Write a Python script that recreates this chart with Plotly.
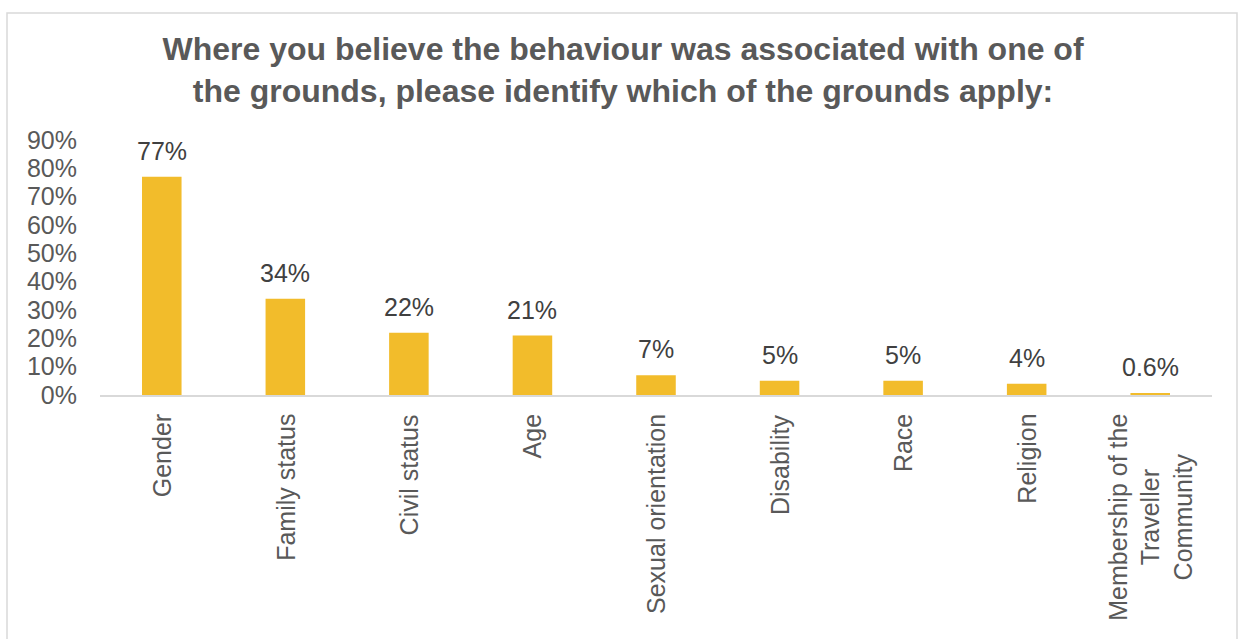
import plotly.graph_objects as go

categories = [
    "Gender", "Family status", "Civil status", "Age", "Sexual orientation",
    "Disability", "Race", "Religion", "Membership of the<br>Traveller<br>Community",
]
shares = [0.77, 0.34, 0.22, 0.21, 0.07, 0.05, 0.05, 0.04, 0.006]
share_labels = ["77%", "34%", "22%", "21%", "7%", "5%", "5%", "4%", "0.6%"]
y_ticks = [0, 0.1, 0.2, 0.3, 0.4, 0.5, 0.6, 0.7, 0.8, 0.9]
y_tick_labels = ["0%", "10%", "20%", "30%", "40%", "50%", "60%", "70%", "80%", "90%"]

W, H = 1245, 639
L, R, T, B = 100, 33, 140, 244
pw, ph = W - L - R, H - T - B

font = "Arial, Liberation Sans, sans-serif"
grey = "#595959"

fig = go.Figure(go.Bar(
    x=categories,
    y=shares,
    marker=dict(color="#F2BC2B", line=dict(width=0)),
    cliponaxis=False,
    hoverinfo="skip",
))

annotations = []
# value labels above each bar
for cat, val, lab in zip(categories, shares, share_labels):
    annotations.append(dict(
        x=cat, y=val, xref="x", yref="y",
        text=lab, showarrow=False,
        xanchor="center", yanchor="bottom", yshift=10,
        font=dict(family=font, size=25, color="#404040"),
    ))
# rotated category labels, centred line by line
for cat in categories:
    annotations.append(dict(
        x=cat, y=-17 / ph, xref="x", yref="paper",
        text=cat, showarrow=False, textangle=-90,
        xanchor="center", yanchor="top", align="center",
        font=dict(family=font, size=25, color=grey),
    ))

fig.update_layout(
    width=W, height=H,
    margin=dict(l=L, r=R, t=T, b=B, autoexpand=False),
    paper_bgcolor="white",
    plot_bgcolor="white",
    bargap=0.68,
    showlegend=False,
    title=dict(
        text="Where you believe the behaviour was associated with one of<br>"
             "the grounds, please identify which of the grounds apply:",
        x=623 / W, xanchor="center",
        y=1 - 60 / H, yanchor="middle",
        yref="container",
        font=dict(family=font, size=32, color=grey, weight="bold"),
    ),
    xaxis=dict(
        showticklabels=False,
        showline=True, linecolor="#D9D9D9", linewidth=2,
        ticks="", showgrid=False,
    ),
    yaxis=dict(
        range=[0, 0.9],
        tickvals=y_ticks, ticktext=y_tick_labels,
        tickfont=dict(family=font, size=25, color=grey),
        showgrid=False, zeroline=False, showline=False, ticks="",
        ticklabelstandoff=22,
    ),
    annotations=annotations,
    shapes=[dict(
        type="rect", xref="paper", yref="paper",
        x0=(7 - L) / pw, x1=(1237 - L) / pw,
        y0=(T + ph - 700) / ph, y1=(T + ph - 13) / ph,
        line=dict(color="#D9D9D9", width=1.5),
        fillcolor="rgba(0,0,0,0)",
        layer="below",
    )],
)

fig.write_html("out.html")
